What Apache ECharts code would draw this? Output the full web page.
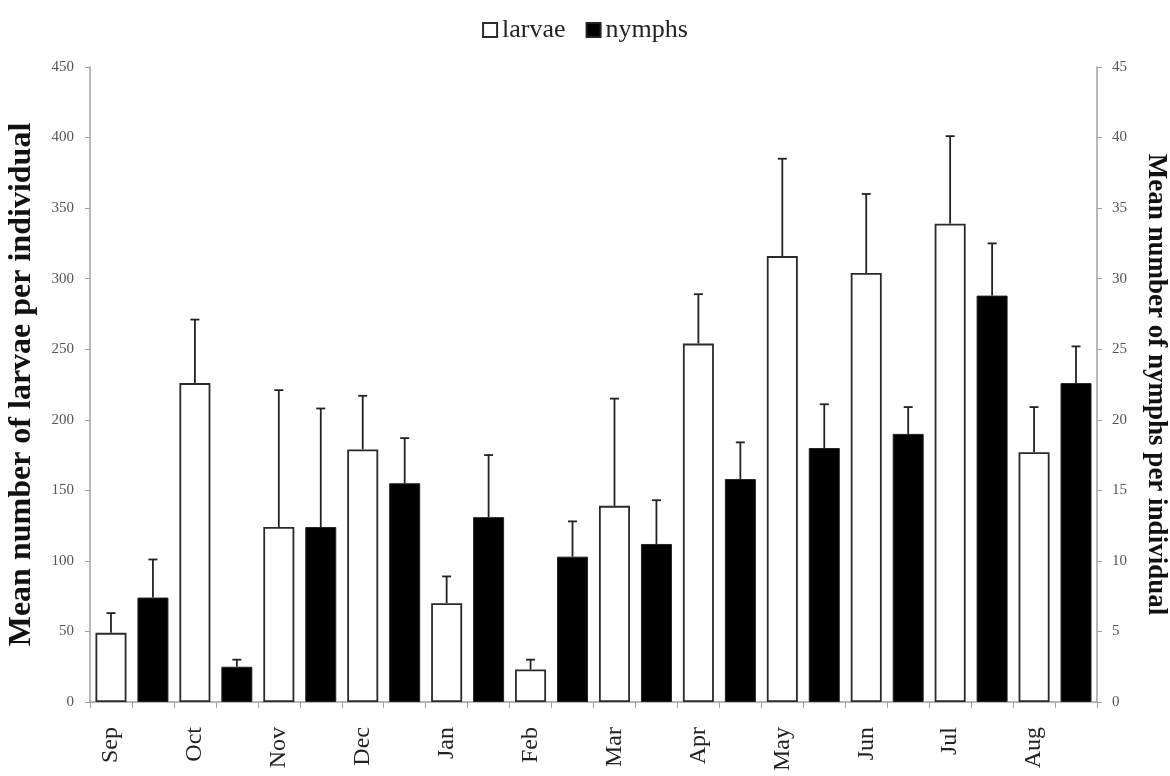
<!DOCTYPE html>
<html>
<head>
<meta charset="utf-8">
<script src="https://cdn.jsdelivr.net/npm/echarts@6/dist/echarts.min.js"></script>
<style>
html,body{margin:0;padding:0;background:#fff;}
#chart{width:1170px;height:776px;}
</style>
</head>
<body>
<div id="chart"></div>
<script>
const months = ['Sep','Oct','Nov','Dec','Jan','Feb','Mar','Apr','May','Jun','Jul','Aug'];
const larvaeMean = [49, 226, 124, 179, 70, 23, 139, 254, 316, 304, 339, 177];
const larvaeUpper = [63, 271, 221, 217, 89, 30, 215, 289, 385, 360, 401, 209];
const nymphsMean = [7.4, 2.5, 12.4, 15.5, 13.1, 10.3, 11.2, 15.8, 18.0, 19.0, 28.8, 22.6];
const nymphsUpper = [10.1, 3.0, 20.8, 18.7, 17.5, 12.8, 14.3, 18.4, 21.1, 20.9, 32.5, 25.2];
const leftTicks = {min: 0, max: 450, interval: 50};
const rightTicks = {min: 0, max: 45, interval: 5};

// 24 slots: larvae in even slots, nymphs in odd slots
const slots = [];
const larvaeData = [];
const nymphsData = [];
const larvaeErr = [];
const nymphsErr = [];
months.forEach((m, i) => {
  slots.push(m); slots.push('');
  larvaeData.push(larvaeMean[i]); larvaeData.push('-');
  nymphsData.push('-'); nymphsData.push(nymphsMean[i]);
  larvaeErr.push([2 * i, larvaeMean[i], larvaeUpper[i]]);
  nymphsErr.push([2 * i + 1, nymphsMean[i], nymphsUpper[i]]);
});

const serif = '"Liberation Serif", "DejaVu Serif", serif';
const axisGray = '#a0a0a0';

function errRender(params, api) {
  const x = api.value(0);
  const p0 = api.coord([x, api.value(1)]);
  const p1 = api.coord([x, api.value(2)]);
  const style = {stroke: '#222', lineWidth: 1.8};
  return {
    type: 'group',
    children: [
      {type: 'line', shape: {x1: p0[0], y1: p0[1], x2: p1[0], y2: p1[1]}, style: style},
      {type: 'line', shape: {x1: p1[0] - 4.5, y1: p1[1], x2: p1[0] + 4.5, y2: p1[1]}, style: style}
    ]
  };
}

const chart = echarts.init(document.getElementById('chart'), null, {renderer: 'canvas'});
chart.setOption({
  animation: false,
  backgroundColor: '#fff',
  legend: {
    data: ['larvae', 'nymphs'],
    left: 'center', top: 12,
    icon: 'rect', itemWidth: 14, itemHeight: 14, itemGap: 20,
    textStyle: {fontFamily: serif, fontSize: 26, color: '#222'}
  },
  grid: {left: 90, right: 73, top: 67, bottom: 74, outerBoundsMode: 'none'},
  xAxis: {
    type: 'category',
    data: slots,
    boundaryGap: true,
    axisLine: {lineStyle: {color: axisGray, width: 1.5}},
    axisTick: {show: true, interval: 0, length: 6, lineStyle: {color: axisGray}},
    axisLabel: {interval: 0, rotate: 90, margin: 25, fontFamily: serif, fontSize: 24, color: '#222'}
  },
  yAxis: [
    {
      type: 'value', min: leftTicks.min, max: leftTicks.max, interval: leftTicks.interval,
      name: 'Mean number of larvae per individual', nameLocation: 'middle', nameGap: 52,
      nameTextStyle: {fontFamily: serif, fontSize: 32, fontWeight: 'bold', color: '#111'},
      axisLine: {show: true, lineStyle: {color: axisGray, width: 1.5}},
      axisTick: {show: true, length: 5, lineStyle: {color: axisGray}},
      axisLabel: {fontFamily: serif, fontSize: 15, color: '#555', margin: 16},
      splitLine: {show: false}
    },
    {
      type: 'value', min: rightTicks.min, max: rightTicks.max, interval: rightTicks.interval,
      position: 'right',
      name: 'Mean number of nymphs per individual', nameLocation: 'middle', nameGap: 45, nameRotate: -90,
      nameTextStyle: {fontFamily: serif, fontSize: 27, fontWeight: 'bold', color: '#111'},
      axisLine: {show: true, lineStyle: {color: axisGray, width: 1.5}},
      axisTick: {show: true, length: 5, lineStyle: {color: axisGray}},
      axisLabel: {fontFamily: serif, fontSize: 15, color: '#555', margin: 15},
      splitLine: {show: false}
    }
  ],
  series: [
    {
      name: 'larvae', type: 'bar', yAxisIndex: 0, data: larvaeData,
      barWidth: 31, barGap: '-100%',
      itemStyle: {color: '#fff', borderColor: '#2a2a2a', borderWidth: 1.8}
    },
    {
      name: 'nymphs', type: 'bar', yAxisIndex: 1, data: nymphsData,
      barWidth: 31, barGap: '-100%',
      itemStyle: {color: '#000', borderColor: '#222', borderWidth: 1}
    },
    {
      name: 'larvaeErr', type: 'custom', yAxisIndex: 0, data: larvaeErr,
      renderItem: errRender, z: 5, encode: {x: 0, y: [1, 2]}
    },
    {
      name: 'nymphsErr', type: 'custom', yAxisIndex: 1, data: nymphsErr,
      renderItem: errRender, z: 5, encode: {x: 0, y: [1, 2]}
    }
  ]
});
</script>
</body>
</html>
